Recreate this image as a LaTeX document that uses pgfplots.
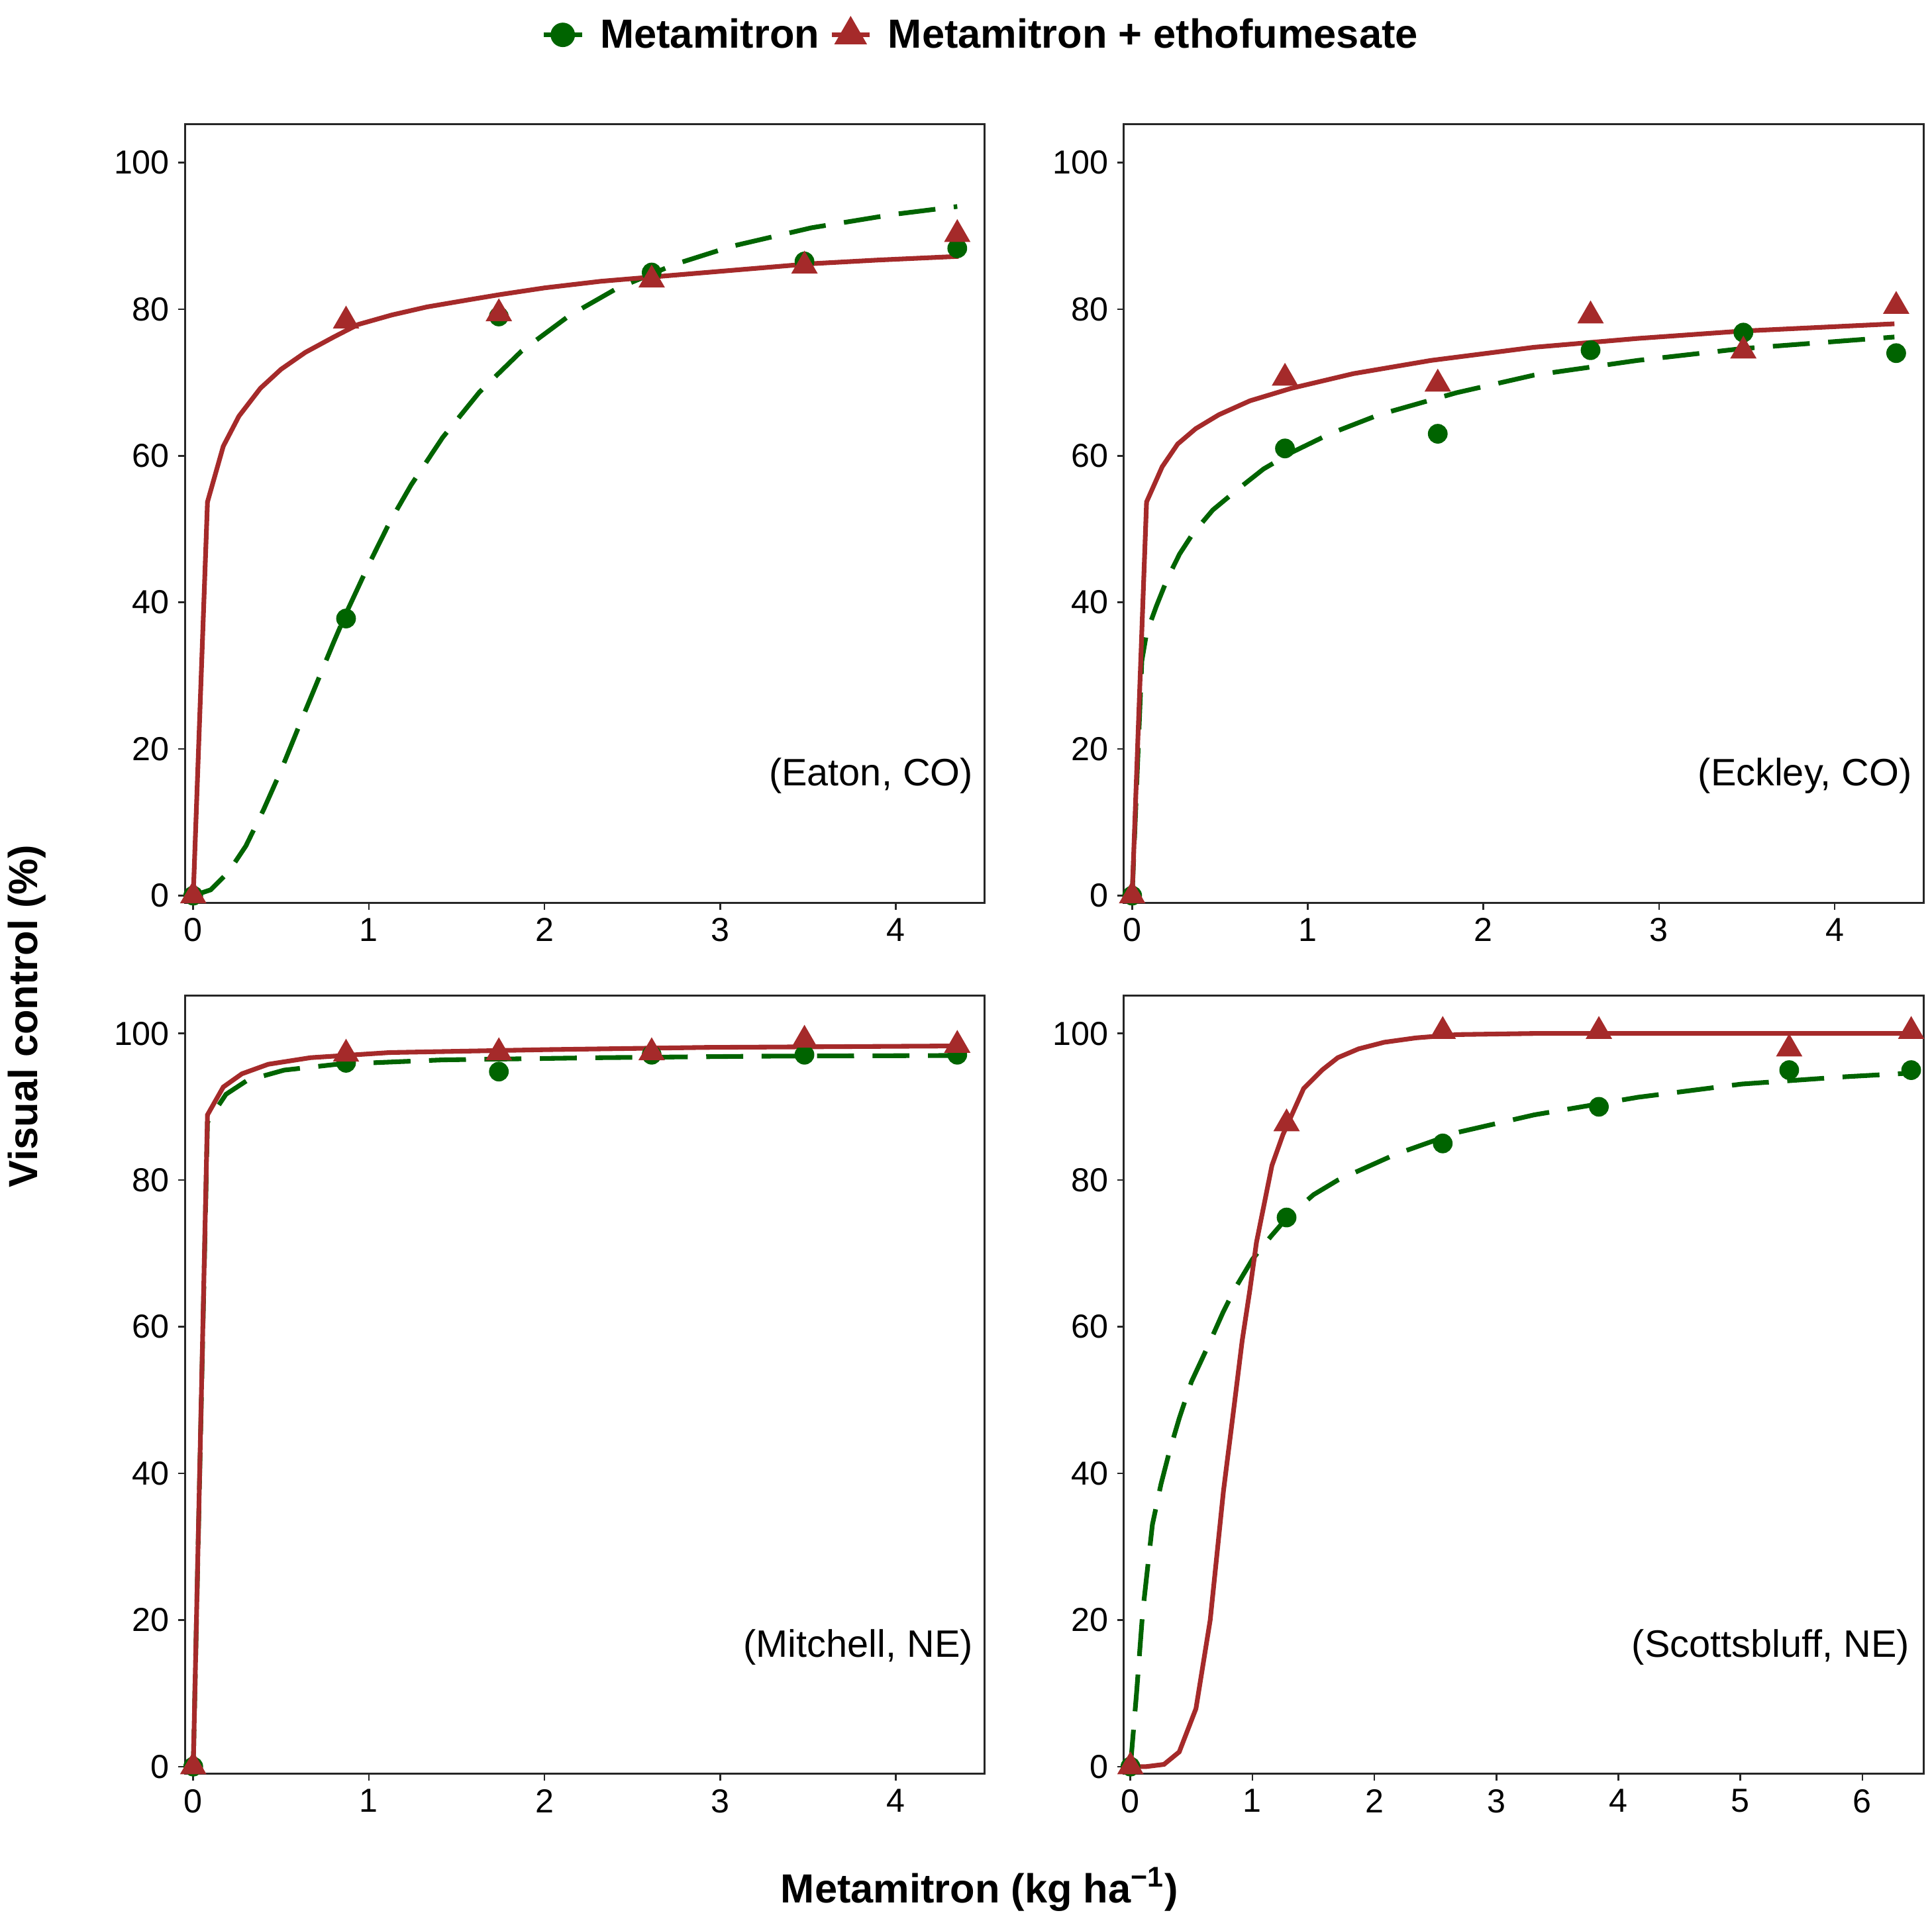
\documentclass[border=0pt]{standalone}
\usepackage{pgfplots}
\pgfplotsset{compat=1.18}
\usepackage{fontspec}
\setmainfont{Liberation Sans}
\definecolor{cg}{HTML}{006400}
\definecolor{cr}{HTML}{A52A2A}
\tikzset{plab/.style={anchor=east, inner sep=0pt, font=\fontsize{15.5}{18}\selectfont}}
\pgfplotsset{
 panel/.style={
  scale only axis, width=324.5pt, height=316pt, anchor=south west,
  ymin=-1, ymax=105.2, ytick={0,20,...,100},
  axis line style={line width=0.8pt, black!85},
  tick align=outside, major tick length=2.7pt,
  every tick/.style={black!85, line width=0.7pt},
  xtick pos=left, ytick pos=left,
  tick label style={font=\fontsize{13.5}{16}\selectfont, black},
  /pgf/number format/assume math mode=true,
  clip=true,
 },
 gline/.style={cg, line width=1.9pt, dash pattern=on 15pt off 7.5pt, no marks},
 rline/.style={cr, line width=1.9pt, solid, no marks},
 gpts/.style={only marks, mark=*, mark size=3.8pt, cg, mark options={solid, fill=cg, draw=cg}},
 rpts/.style={only marks, mark=triangle*, mark size=5.8pt, cr, mark options={solid, fill=cr, draw=cr}},
}
\begin{document}
\begin{tikzpicture}
\path[use as bounding box] (0pt,0pt) rectangle (784pt,779.5pt);
% ---------------- Panel 1: Eaton
\begin{axis}[panel, at={(75pt,413pt)}, xmin=-0.048, xmax=4.505, xtick={0,1,2,3,4},
  legend style={at={(0.997,1.115)}, anchor=center, draw=none, fill=none,
    font=\fontsize{16.5}{19}\bfseries\selectfont, legend columns=2,
    /tikz/every odd column/.append style={column sep=4.5pt},
    /tikz/every even column/.append style={column sep=2pt}},
  legend image code/.code={\draw[mark repeat=2,mark phase=2,#1] plot coordinates {(0pt,0pt) (7.75pt,0pt) (15.5pt,0pt)};}]
\addlegendimage{cg, line width=1.9pt, solid, mark=*, mark size=4pt}
\addlegendentry{Metamitron}
\addlegendimage{cr, line width=1.9pt, solid, mark=triangle*, mark size=5.8pt}
\addlegendentry{Metamitron + ethofumesate}
\addplot[gline, forget plot] table {
0 0
0.1 0.8
0.2 3.2
0.3 6.8
0.4 11.7
0.5 17.1
0.6 23.0
0.7 28.8
0.8 34.6
0.87 38.5
1.0 45.2
1.12 51.0
1.24 56.0
1.42 62.5
1.63 68.7
1.87 74.3
2.14 79.1
2.41 82.8
2.74 86.1
3.07 88.6
3.52 91.1
3.98 92.9
4.35 94.0
};
\addplot[rline, forget plot] table {
0 0
0.081 53.7
0.171 61.3
0.26 65.4
0.382 69.2
0.5 71.8
0.638 74.1
0.8 76.2
0.938 77.9
1.13 79.2
1.33 80.3
1.55 81.2
1.75 82.0
2.0 82.9
2.32 83.8
2.62 84.4
2.92 85.0
3.22 85.6
3.52 86.2
3.9 86.7
4.358 87.2
};
\addplot[gpts, forget plot] table {
0 0
0.87 37.8
1.74 79.0
2.61 85.0
3.48 86.5
4.35 88.3
};
\addplot[rpts, forget plot] table {
0 0
0.87 78.4
1.74 79.4
2.61 84.0
3.48 85.9
4.35 90.2
};
\node[plab] at (rel axis cs:0.986,0.163) {(Eaton, CO)};
\end{axis}
% ---------------- Panel 2: Eckley
\begin{axis}[panel, at={(456pt,413pt)}, xmin=-0.048, xmax=4.505, xtick={0,1,2,3,4}]
\addplot[gline] table {
0 0
0.055 32.0
0.082 35.8
0.138 39.5
0.2 43.2
0.27 46.6
0.346 49.4
0.459 52.6
0.6 55.4
0.748 58.2
0.912 60.5
1.126 63.0
1.406 65.6
1.847 68.6
2.288 71.0
2.876 73.0
3.465 74.6
4.34 76.2
};
\addplot[rline] table {
0 0
0.082 53.7
0.171 58.5
0.259 61.6
0.362 63.7
0.494 65.6
0.671 67.5
0.906 69.2
1.259 71.2
1.7 73.0
2.288 74.8
2.876 76.0
3.465 77.0
4.34 78.0
};
\addplot[gpts] table {
0 0
0.87 61.0
1.74 63.0
2.61 74.4
3.48 76.8
4.35 74.0
};
\addplot[rpts] table {
0 0
0.87 70.6
1.74 69.8
2.61 79.1
3.48 74.3
4.35 80.4
};
\node[plab] at (rel axis cs:0.986,0.163) {(Eckley, CO)};
\end{axis}
% ---------------- Panel 3: Mitchell
\begin{axis}[panel, at={(75pt,59.5pt)}, xmin=-0.048, xmax=4.505, xtick={0,1,2,3,4}]
\addplot[gline] table {
0 0
0.081 87.9
0.186 91.7
0.307 93.6
0.517 95.0
0.818 95.8
1.42 96.4
2.32 96.7
3.22 96.9
4.358 97.0
};
\addplot[rline] table {
0 0
0.081 88.9
0.171 92.7
0.277 94.5
0.427 95.8
0.668 96.7
1.119 97.4
2.02 97.8
2.92 98.1
4.358 98.3
};
\addplot[gpts] table {
0 0
0.87 96.0
1.74 94.8
2.61 97.1
3.48 97.1
4.35 97.1
};
\addplot[rpts] table {
0 0
0.87 97.2
1.74 97.4
2.61 97.4
3.48 99.1
4.35 98.4
};
\node[plab] at (rel axis cs:0.986,0.163) {(Mitchell, NE)};
\end{axis}
% ---------------- Panel 4: Scottsbluff
\begin{axis}[panel, at={(456pt,59.5pt)}, xmin=-0.055, xmax=6.5, xtick={0,1,2,3,4,5,6}]
\addplot[gline] table {
0 0
0.05 10.0
0.1 21.0
0.18 33.0
0.25 38.5
0.32 43.0
0.4 47.5
0.5 52.5
0.64 57.5
0.76 62.0
0.85 65.0
1.0 69.2
1.15 72.3
1.28 74.8
1.5 78.0
1.7 80.0
2.17 83.5
2.68 86.5
3.31 88.9
4.16 91.3
5.01 93.1
5.86 94.1
6.4 94.6
};
\addplot[rline] table {
0 0
0.13 0
0.275 0.3
0.4 2.0
0.537 7.9
0.654 20.0
0.762 37.5
0.853 49.6
0.916 58.1
0.979 65.0
1.033 71.5
1.16 82.0
1.25 86.2
1.42 92.5
1.57 95.0
1.7 96.7
1.87 97.9
2.08 98.8
2.34 99.4
2.68 99.85
3.3 100
6.4 100
};
\addplot[gpts] table {
0 0
1.28 74.9
2.56 85.0
3.84 90.0
5.4 95.0
6.4 95.0
};
\addplot[rpts] table {
0 0
1.28 87.7
2.56 100.3
3.84 100.3
5.4 97.9
6.4 100.3
};
\node[plab] at (rel axis cs:0.983,0.163) {(Scottsbluff, NE)};
\end{axis}
% ---------------- Shared axis titles
\node[rotate=90, font=\fontsize{16.5}{19}\bfseries\selectfont] at (11pt,367pt) {Visual control (\%)};
\node[anchor=base, font=\fontsize{16.5}{19}\bfseries\selectfont] at (397.5pt,7.25pt) {Metamitron (kg ha\textsuperscript{−1})};
\end{tikzpicture}
\end{document}
